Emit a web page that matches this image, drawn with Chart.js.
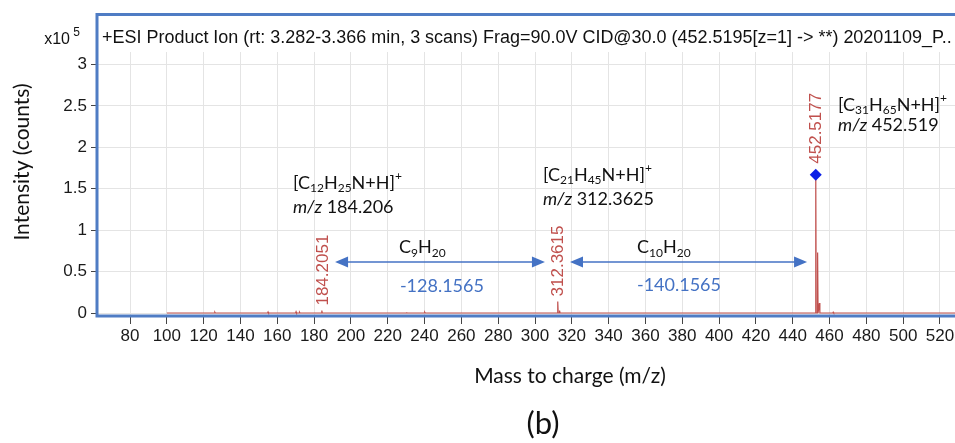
<!DOCTYPE html>
<html>
<head>
<meta charset="utf-8">
<script src="https://cdn.jsdelivr.net/npm/chart.js@4.4.1/dist/chart.umd.min.js"></script>
<style>
  html, body { margin: 0; padding: 0; background: #fff; }
  #wrap { width: 955px; height: 443px; }
</style>
</head>
<body>
<div id="wrap"><canvas id="c" width="955" height="443"></canvas></div>
<script>
// stick spectrum, intensity in units of 1e5 counts
const peakMz  = [126.1, 155.0, 170.2, 172.1, 184.2051, 230.2, 240.1, 312.3615, 313.36, 452.5177, 453.52, 454.5, 462.0];
const peakInt = [0.01, 0.012, 0.015, 0.01, 0.03, 0.008, 0.01, 0.14, 0.03, 1.67, 0.73, 0.12, 0.01];
const scanStart = 100;
const scanEnd = 530;
const labelledMz = [184.2051, 312.3615, 452.5177];
const markerMz = [452.5177];
const markerInt = [1.67];
const xTicks = [80, 100, 120, 140, 160, 180, 200, 220, 240, 260, 280, 300, 320, 340, 360, 380, 400, 420, 440, 460, 480, 500, 520];
const yTicks = [0, 0.5, 1, 1.5, 2, 2.5, 3];
const header = '+ESI Product Ion (rt: 3.282-3.366 min, 3 scans) Frag=90.0V CID@30.0 (452.5195[z=1] -> **) 20201109_P..';

const RED = '#c0504d';
const BLUE = '#4472c4';
const SANS = '"Liberation Sans", Arial, sans-serif';
const HUMAN = 'Lato, "Open Sans", sans-serif';

const spectrum = [{ x: scanStart, y: 0 }];
peakMz.forEach((mz, i) => {
  spectrum.push({ x: mz - 0.25, y: 0 }, { x: mz, y: peakInt[i] }, { x: mz + 0.25, y: 0 });
});
spectrum.push({ x: scanEnd, y: 0 });

const markers = markerMz.map((mz, i) => ({ x: mz, y: markerInt[i] }));

// text with sub/superscripts: parts are [text, kind] with kind n | sub | sup | it
function drawRich(ctx, parts, x, y, size) {
  let cx = x;
  parts.forEach(([t, kind]) => {
    const small = kind === 'sub' || kind === 'sup';
    const fs = small ? Math.round(size * 0.66) : size;
    ctx.font = (kind === 'it' ? 'italic ' : '') + fs + 'px ' + HUMAN;
    let dy = 0;
    if (kind === 'sub') dy = size * 0.28;
    if (kind === 'sup') dy = -size * 0.38;
    ctx.fillText(t, cx, y + dy);
    cx += ctx.measureText(t).width;
  });
}

function arrow(ctx, x1, x2, y) {
  const head = 13, half = 5.5;
  ctx.strokeStyle = BLUE;
  ctx.fillStyle = BLUE;
  ctx.lineWidth = 1.5;
  ctx.beginPath();
  ctx.moveTo(x1 + head - 2, y);
  ctx.lineTo(x2 - head + 2, y);
  ctx.stroke();
  ctx.beginPath();
  ctx.moveTo(x1, y); ctx.lineTo(x1 + head, y - half); ctx.lineTo(x1 + head, y + half); ctx.closePath();
  ctx.fill();
  ctx.beginPath();
  ctx.moveTo(x2, y); ctx.lineTo(x2 - head, y - half); ctx.lineTo(x2 - head, y + half); ctx.closePath();
  ctx.fill();
}

const decorations = {
  id: 'decorations',
  afterDraw(chart) {
    const { ctx, chartArea: a, scales: { x, y } } = chart;
    const px = v => x.getPixelForValue(v);
    const py = v => y.getPixelForValue(v);
    ctx.save();

    // instrument frame
    ctx.strokeStyle = '#4f7cc4';
    ctx.lineWidth = 3;
    ctx.beginPath();
    ctx.moveTo(chart.width + 2, 14.5);
    ctx.lineTo(a.left, 14.5);
    ctx.lineTo(a.left, a.bottom);
    ctx.lineTo(chart.width + 2, a.bottom);
    ctx.stroke();

    // header line, sized to run to the right edge like the instrument export
    ctx.fillStyle = '#111';
    ctx.textBaseline = 'middle';
    ctx.textAlign = 'left';
    ctx.font = '17px ' + SANS;
    const hs = 17 * (chart.width - 3 - (a.left + 5)) / ctx.measureText(header).width;
    ctx.font = hs.toFixed(2) + 'px ' + SANS;
    ctx.fillText(header, a.left + 5, 38);

    // x10^5 multiplier
    ctx.textAlign = 'right';
    ctx.font = '16px ' + SANS;
    ctx.fillText('x10', 70, 40);
    ctx.font = '12px ' + SANS;
    ctx.fillText('5', 80, 33);

    // axis titles and panel letter
    ctx.textAlign = 'center';
    ctx.font = '21px ' + HUMAN;
    ctx.save();
    ctx.translate(22, 162);
    ctx.rotate(-Math.PI / 2);
    ctx.fillText('Intensity (counts)', 0, 0);
    ctx.restore();
    ctx.fillText('Mass to charge (m/z)', 570, 376);
    ctx.font = '31px ' + HUMAN;
    ctx.fillText('(b)', 543, 424);

    // rotated peak labels
    ctx.fillStyle = RED;
    ctx.font = '17px ' + SANS;
    ctx.textAlign = 'left';
    labelledMz.forEach(mz => {
      const i = peakMz.indexOf(mz);
      const gap = markerMz.includes(mz) ? 11 : 5;
      ctx.save();
      ctx.translate(px(mz), py(peakInt[i]) - gap);
      ctx.rotate(-Math.PI / 2);
      ctx.fillText(mz.toFixed(4), 0, 1);
      ctx.restore();
    });

    // ion annotations
    ctx.fillStyle = '#111';
    drawRich(ctx, [['[C', 'n'], ['12', 'sub'], ['H', 'n'], ['25', 'sub'], ['N+H]', 'n'], ['+', 'sup']], px(168.5), py(1.57), 18);
    drawRich(ctx, [['m/z', 'it'], [' 184.206', 'n']], px(168.5), py(1.28), 18);
    drawRich(ctx, [['[C', 'n'], ['21', 'sub'], ['H', 'n'], ['45', 'sub'], ['N+H]', 'n'], ['+', 'sup']], px(304.3), py(1.67), 18);
    drawRich(ctx, [['m/z', 'it'], [' 312.3625', 'n']], px(304.3), py(1.38), 18);
    drawRich(ctx, [['[C', 'n'], ['31', 'sub'], ['H', 'n'], ['65', 'sub'], ['N+H]', 'n'], ['+', 'sup']], px(464.6), py(2.51), 18);
    drawRich(ctx, [['m/z', 'it'], [' 452.519', 'n']], px(464.6), py(2.27), 18);

    // neutral losses
    arrow(ctx, px(191.4), px(305.4), py(0.616));
    arrow(ctx, px(319.0), px(447.8), py(0.616));
    ctx.fillStyle = '#111';
    drawRich(ctx, [['C', 'n'], ['9', 'sub'], ['H', 'n'], ['20', 'sub']], px(226.1), py(0.79), 18);
    drawRich(ctx, [['C', 'n'], ['10', 'sub'], ['H', 'n'], ['20', 'sub']], px(355.4), py(0.79), 18);
    ctx.fillStyle = BLUE;
    drawRich(ctx, [['-128.1565', 'n']], px(226.6), py(0.32), 18);
    drawRich(ctx, [['-140.1565', 'n']], px(355.4), py(0.34), 18);

    ctx.restore();
  }
};

new Chart(document.getElementById('c'), {
  type: 'line',
  data: {
    datasets: [
      {
        label: 'marker',
        data: markers,
        showLine: false,
        pointStyle: 'rectRot',
        pointRadius: 6,
        pointBackgroundColor: '#0a1fe6',
        pointBorderWidth: 0,
      },
      {
        label: 'spectrum',
        data: spectrum,
        borderColor: RED,
        borderWidth: 1.2,
        pointRadius: 0,
        tension: 0,
        fill: false,
      },
    ],
  },
  options: {
    responsive: false,
    devicePixelRatio: 1,
    animation: false,
    layout: { autoPadding: false, padding: { top: 52, left: 0, right: 0, bottom: 0 } },
    plugins: { legend: { display: false }, tooltip: { enabled: false } },
    scales: {
      x: {
        type: 'linear',
        min: 62.07,
        max: 528.15,
        afterBuildTicks: s => { s.ticks = xTicks.map(v => ({ value: v })); },
        afterFit: s => { s.height = 127; s.paddingLeft = 0; s.paddingRight = 0; },
        ticks: { font: { family: SANS, size: 17 }, color: '#1a1a1a', maxRotation: 0, autoSkip: false, padding: 2 },
        grid: { color: '#e4e4e4', tickColor: '#444', tickLength: 8 },
        border: { display: false },
      },
      y: {
        type: 'linear',
        min: -0.036,
        max: 3.152,
        afterBuildTicks: s => { s.ticks = yTicks.map(v => ({ value: v })); },
        afterFit: s => { s.width = 97; },
        ticks: { font: { family: SANS, size: 17 }, color: '#1a1a1a', padding: 4, callback: v => String(v) },
        grid: { color: '#e4e4e4', tickColor: '#444', tickLength: 6 },
        border: { display: false },
      },
    },
  },
  plugins: [decorations],
});
</script>
</body>
</html>
